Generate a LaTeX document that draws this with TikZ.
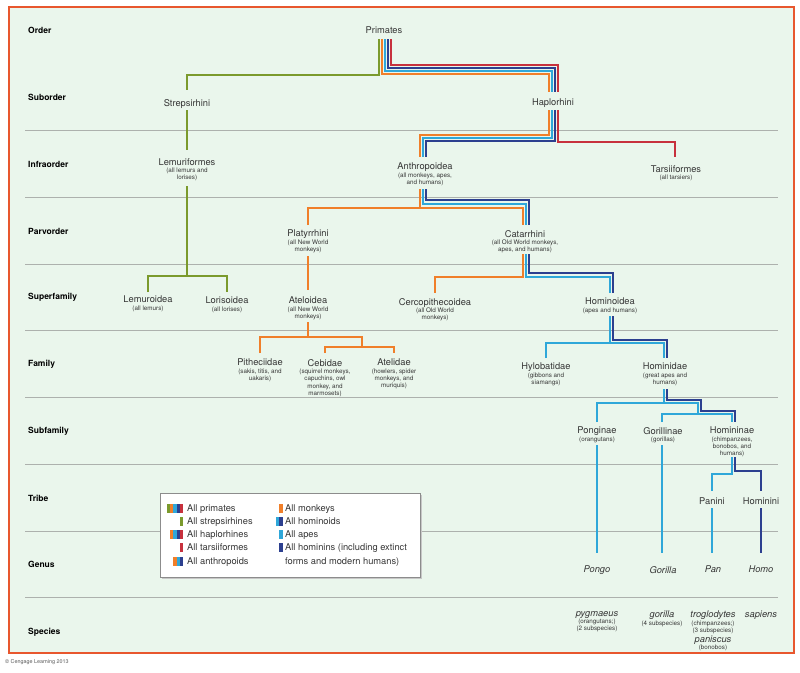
\documentclass[tikz,border=0pt]{standalone}
\usepackage{fontspec}
\setmainfont{TeX Gyre Heros}
\definecolor{cGrn}{HTML}{7B9A2D}
\definecolor{cOra}{HTML}{F07F2A}
\definecolor{cLbl}{HTML}{2FA7D9}
\definecolor{cDbl}{HTML}{2C3F8F}
\definecolor{cRed}{HTML}{C7313D}
\definecolor{cBg}{HTML}{EAF6EC}
\definecolor{cFrame}{HTML}{E8572E}
\definecolor{cRule}{HTML}{ADB1AD}
\definecolor{cTxt}{HTML}{363636}
\newcommand\Nm{\fontsize{9.3}{10}\selectfont}
\newcommand\Sb{\fontsize{6.3}{7.3}\selectfont}
\newcommand\Rw{\fontsize{8.5}{10}\selectfont\bfseries}
\newcommand\Lg{\fontsize{9.3}{11}\selectfont}
\tikzset{
  ln/.style={line width=2.6pt},
  cg/.style={ln,draw=cGrn},
  co/.style={ln,draw=cOra},
  cl/.style={ln,draw=cLbl},
  cd/.style={ln,draw=cDbl},
  cr/.style={ln,draw=cRed},
  tx/.style={align=center,inner sep=0pt,anchor=north,text=cTxt,font=\Sb},
  rowlab/.style={anchor=west,inner sep=0pt,font=\Rw,text=black},
  leg/.style={anchor=base west,inner sep=0pt,font=\Lg,text=cTxt},
  rule/.style={draw=cRule,line width=0.9pt}
}
\begin{document}
\begin{tikzpicture}[x=1pt,y=-1pt]
\useasboundingbox (0,0) rectangle (800,672);
\fill[white] (0,0) rectangle (800,672);
\fill[cBg] (9,7) rectangle (794,653);
% rules
\foreach \yy in {130,197,264,330,397,464,531,597}
  \draw[rule] (25,\yy) -- (778,\yy);
\draw[draw=cFrame,line width=2.2pt] (9,7) rectangle (794,653);

% row labels
\node[rowlab] (rOrd) at (28,30) {Order};
\node[rowlab] (rSub) at (28,97) {Suborder};
\node[rowlab] (rInf) at (28,164) {Infraorder};
\node[rowlab] (rPar) at (28,231) {Parvorder};
\node[rowlab] (rSup) at (28,297) {Superfamily};
\node[rowlab] (rFam) at (28,364) {Family};
\node[rowlab] (rSbf) at (28,431) {Subfamily};
\node[rowlab] (rTri) at (28,498) {Tribe};
\node[rowlab] (rGen) at (28,564) {Genus};
\node[rowlab] (rSpe) at (28,632) {Species};

% taxon nodes
\node[tx] (prim) at (384,27) {\Nm Primates};
\node[tx] (strep) at (187,99) {\Nm Strepsirhini};
\node[tx] (hapl) at (553,99) {\Nm Haplorhini};
\node[tx] (lemf) at (187,158) {\Nm Lemuriformes\\\Sb (all lemurs and\\\Sb lorises)};
\node[tx] (anth) at (425,163) {\Nm Anthropoidea\\\Sb (all monkeys, apes,\\\Sb and humans)};
\node[tx] (tars) at (676,165) {\Nm Tarsiiformes\\\Sb (all tarsiers)};
\node[tx] (plat) at (308,230) {\Nm Platyrrhini\\\Sb (all New World\\\Sb monkeys)};
\node[tx] (cata) at (525,230) {\Nm Catarrhini\\\Sb (all Old World monkeys,\\\Sb apes, and humans)};
\node[tx] (lemd) at (148,296) {\Nm Lemuroidea\\\Sb (all lemurs)};
\node[tx] (lori) at (227,297) {\Nm Lorisoidea\\\Sb (all lorises)};
\node[tx] (atel) at (308,297) {\Nm Ateloidea\\\Sb (all New World\\\Sb monkeys)};
\node[tx] (cerc) at (435,298) {\Nm Cercopithecoidea\\\Sb (all Old World\\\Sb monkeys)};
\node[tx] (hoid) at (610,298) {\Nm Hominoidea\\\Sb (apes and humans)};
\node[tx] (pith) at (260,359) {\Nm Pitheciidae\\\Sb (sakis, titis, and\\\Sb uakaris)};
\node[tx] (cebi) at (325,359) {\Nm Cebidae\\\Sb (squirrel monkeys,\\\Sb capuchins, owl\\\Sb monkey, and\\\Sb marmosets)};
\node[tx] (atli) at (394,359) {\Nm Atelidae\\\Sb (howlers, spider\\\Sb monkeys, and\\\Sb muriquis)};
\node[tx] (hylo) at (546,363) {\Nm Hylobatidae\\\Sb (gibbons and\\\Sb siamangs)};
\node[tx] (hmid) at (665,363) {\Nm Hominidae\\\Sb (great apes and\\\Sb humans)};
\node[tx] (pong) at (597,427) {\Nm Ponginae\\\Sb (orangutans)};
\node[tx] (gori) at (663,427) {\Nm Gorillinae\\\Sb (gorillas)};
\node[tx] (hnin) at (732,427) {\Nm Homininae\\\Sb (chimpanzees,\\\Sb bonobos, and\\\Sb humans)};
\node[tx] (pani) at (712,498) {\Nm Panini};
\node[tx] (homi) at (761,498) {\Nm Hominini};
\node[tx] (gPongo) at (597,566) {\Nm\itshape Pongo};
\node[tx] (gGor) at (663,566) {\Nm\itshape Gorilla};
\node[tx] (gPan) at (713,566) {\Nm\itshape Pan};
\node[tx] (gHomo) at (761,566) {\Nm\itshape Homo};
\node[tx] (sPyg) at (597,611) {\Nm\itshape pygmaeus\\\Sb (orangutans;)\\\Sb (2 subspecies)};
\node[tx] (sGor) at (662,611) {\Nm\itshape gorilla\\\Sb (4 subspecies)};
\node[tx] (sTro) at (713,611) {\Nm\itshape troglodytes\\\Sb (chimpanzees;)\\\Sb (3 subspecies)\\[1pt]\Nm\itshape paniscus\\\Sb (bonobos)};
\node[tx] (sSap) at (761,611) {\Nm\itshape sapiens};

% connector end points
\coordinate (primG) at (379,39); \coordinate (primO) at (382,39);
\coordinate (primL) at (385,39); \coordinate (primD) at (388,39);
\coordinate (primR) at (391,39);
\coordinate (strT) at (187,90);
\coordinate (hapTO) at (549,92); \coordinate (hapTL) at (552,92);
\coordinate (hapTD) at (555,92); \coordinate (hapTR) at (558,92);
\coordinate (strB) at (187,110); \coordinate (lemT) at (187,150);
\coordinate (hapBO) at (549,110); \coordinate (hapBL) at (552,110);
\coordinate (hapBD) at (555,110); \coordinate (hapBR) at (558,110);
\coordinate (antTO) at (420,157); \coordinate (antTL) at (423,157);
\coordinate (antTD) at (426,157); \coordinate (tarT) at (675,157);
\coordinate (lemB) at (187,186);
\coordinate (lmdT) at (148,292); \coordinate (lorT) at (227,292);
\coordinate (antBO) at (420,189); \coordinate (antBL) at (423,189);
\coordinate (antBD) at (426,189);
\coordinate (plaT) at (308,225);
\coordinate (catTO) at (523,225); \coordinate (catTL) at (526,225);
\coordinate (catTD) at (529,225);
\coordinate (plaB) at (308,256); \coordinate (ateT) at (308,290);
\coordinate (catBO) at (523,254); \coordinate (catBL) at (526,254);
\coordinate (catBD) at (529,254);
\coordinate (cerT) at (435,293);
\coordinate (hoidTL) at (610,293); \coordinate (hoidTD) at (613,293);
\coordinate (ateB) at (308,322);
\coordinate (pitT) at (260,353); \coordinate (cebT) at (325,353);
\coordinate (atlT) at (394,353);
\coordinate (hoidBL) at (610,316); \coordinate (hoidBD) at (613,316);
\coordinate (hylT) at (546,358);
\coordinate (hidTL) at (664,358); \coordinate (hidTD) at (667,358);
\coordinate (hidBL) at (664,389); \coordinate (hidBD) at (667,389);
\coordinate (ponT) at (597,422); \coordinate (gorT) at (662,422);
\coordinate (hniTL) at (732,422); \coordinate (hniTD) at (735,422);
\coordinate (hniBL) at (732,457); \coordinate (hniBD) at (735,457);
\coordinate (panT) at (712,491); \coordinate (homT) at (761,491);
\coordinate (ponB) at (597,445); \coordinate (pongoT) at (597,553);
\coordinate (gorB) at (662,445); \coordinate (gorillaT) at (662,553);
\coordinate (panB) at (712,508); \coordinate (panGT) at (712,553);
\coordinate (homB) at (761,508); \coordinate (homoT) at (761,553);

% Primates
\draw[cg] (primG) -- ++(0,36) -| (strT);
\draw[co] (primO) -- ++(0,35) -| (hapTO);
\draw[cl] (primL) -- ++(0,32) -| (hapTL);
\draw[cd] (primD) -- ++(0,29) -| (hapTD);
\draw[cr] (primR) -- ++(0,26) -| (hapTR);
% Strepsirhini
\draw[cg] (strB) -- (lemT);
\draw[cg] (lemB) -- ++(0,90) coordinate (lemJ);
\draw[cg] (lmdT) |- (lemJ) -| (lorT);
% Haplorhini
\draw[co] (hapBO) -- ++(0,25) -| (antTO);
\draw[cl] (hapBL) -- ++(0,28) -| (antTL);
\draw[cd] (hapBD) -- ++(0,31) -| (antTD);
\draw[cr] (hapBR) -- ++(0,32) -| (tarT);
% Anthropoidea
\draw[co] (antBO) -- ++(0,19) coordinate (antJ);
\draw[co] (plaT) |- (antJ) -| (catTO);
\draw[cl] (antBL) -- ++(0,15) -| (catTL);
\draw[cd] (antBD) -- ++(0,11) -| (catTD);
% Platyrrhini
\draw[co] (plaB) -- (ateT);
% Catarrhini
\draw[co] (catBO) -- ++(0,23) -| (cerT);
\draw[cl] (catBL) -- ++(0,23) -| (hoidTL);
\draw[cd] (catBD) -- ++(0,19) -| (hoidTD);
% Ateloidea
\draw[co] (ateB) -- ++(0,15) coordinate (ateJ);
\draw[co] (pitT) |- (ateJ) -- ++(54,0) -- ++(0,10) coordinate (ateL);
\draw[co] (cebT) |- (ateL) -| (atlT);
% Hominoidea
\draw[cl] (hoidBL) -- ++(0,27) coordinate (hoidJ);
\draw[cl] (hylT) |- (hoidJ) -| (hidTL);
\draw[cd] (hoidBD) -- ++(0,24) -| (hidTD);
% Hominidae
\draw[cl] (hidBL) -- ++(0,14) coordinate (hidJ);
\draw[cl] (ponT) |- (hidJ) -- ++(34,0) -- ++(0,11) coordinate (hidK);
\draw[cl] (gorT) |- (hidK) -| (hniTL);
\draw[cd] (hidBD) -- ++(0,11) -- ++(34,0) -- ++(0,11) -| (hniTD);
% Homininae
\draw[cl] (hniBL) -- ++(0,17) -| (panT);
\draw[cd] (hniBD) -- ++(0,14) -| (homT);
% genera
\draw[cl] (ponB) -- (pongoT);
\draw[cl] (gorB) -- (gorillaT);
\draw[cl] (panB) -- (panGT);
\draw[cd] (homB) -- (homoT);

% legend
\fill[black!22] (161.5,494.5) rectangle (421.5,578.5);
\draw[draw=black!45,fill=white,line width=0.8pt] (160,493) rectangle (420,577);
% left swatches
\foreach \c [count=\i] in {cGrn,cOra,cLbl,cDbl,cRed}
  \fill[\c] ({167+3.2*(\i-1)},503.5) rectangle ++(3.2,9);
\fill[cGrn] (179.8,516.5) rectangle ++(3.2,9);
\foreach \c [count=\i] in {cOra,cLbl,cDbl,cRed}
  \fill[\c] ({170.2+3.2*(\i-1)},529.5) rectangle ++(3.2,9);
\fill[cRed] (179.8,542.5) rectangle ++(3.2,9);
\foreach \c [count=\i] in {cOra,cLbl,cDbl}
  \fill[\c] ({173.4+3.2*(\i-1)},556.5) rectangle ++(3.2,9);
% right swatches
\fill[cOra] (279.3,503.5) rectangle ++(3.2,9);
\fill[cLbl] (276.1,516.5) rectangle ++(3.2,9);
\fill[cDbl] (279.3,516.5) rectangle ++(3.2,9);
\fill[cLbl] (279.3,529.5) rectangle ++(3.2,9);
\fill[cDbl] (279.3,542.5) rectangle ++(3.2,9);
\node[leg] (l1) at (187,511.3) {All primates};
\node[leg] (l2) at (187,524.3) {All strepsirhines};
\node[leg] (l3) at (187,537.3) {All haplorhines};
\node[leg] (l4) at (187,550.3) {All tarsiiformes};
\node[leg] (l5) at (187,564.3) {All anthropoids};
\node[leg] (r1) at (285,511.3) {All monkeys};
\node[leg] (r2) at (285,524.3) {All hominoids};
\node[leg] (r3) at (285,537.3) {All apes};
\node[leg] (r4) at (285,550.3) {All hominins (including extinct};
\node[leg] (r5) at (285,564.3) {forms and modern humans)};

\node[anchor=west,inner sep=0pt,font=\fontsize{5.4}{6}\selectfont,text=black!65] (copy) at (5,662) {© Cengage Learning 2013};
\end{tikzpicture}
\end{document}
